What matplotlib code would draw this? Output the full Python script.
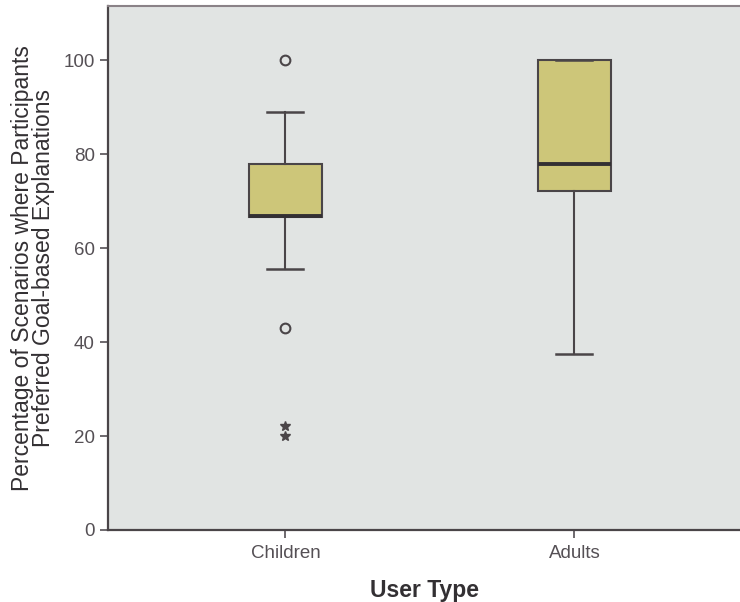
import matplotlib
matplotlib.use("Agg")
import matplotlib.pyplot as plt

categories = ["Children", "Adults"]
q1 = [66.7, 72.2]
median = [66.9, 77.8]
q3 = [77.8, 100.0]
whisker_low = [55.6, 37.5]
whisker_high = [88.9, 100.0]
outliers = [[100.0, 42.9], []]
extremes = [[22.2, 20.0], []]
y_ticks = [0, 20, 40, 60, 80, 100]

plt.rcParams['font.family'] = ['Liberation Sans', 'DejaVu Sans']

fig = plt.figure(figsize=(7.4, 6.02), dpi=100)
ax = fig.add_axes([108/740, 72/602, 1 - 108/740, (530 - 6)/602])
ax.set_facecolor('#e1e4e3')

line_col = '#4a4548'
stats = []
for i, c in enumerate(categories):
    stats.append(dict(label=c, q1=q1[i], med=median[i], q3=q3[i],
                      whislo=whisker_low[i], whishi=whisker_high[i],
                      fliers=outliers[i]))
positions = [1, 2]
ax.bxp(stats, positions=positions, widths=0.25, capwidths=0.125,
       patch_artist=True, showfliers=True,
       boxprops=dict(facecolor='#cdc679', edgecolor=line_col, linewidth=1.5),
       medianprops=dict(color='#333033', linewidth=2.8),
       whiskerprops=dict(color=line_col, linewidth=1.5),
       capprops=dict(color=line_col, linewidth=1.8),
       flierprops=dict(marker='o', markersize=7, markerfacecolor='none',
                       markeredgecolor=line_col, markeredgewidth=1.5))
for i, ex in enumerate(extremes):
    if ex:
        ax.plot([positions[i]] * len(ex), ex, linestyle='none', marker='*',
                markersize=7, color='#4a4548')

ax.set_xlim(0.386, 2.573)
ax.set_ylim(0, 111.5)
ax.set_yticks(y_ticks)
ax.set_xticks(positions)
ax.set_xticklabels(categories)
ax.tick_params(axis='both', direction='out', length=6, width=1.2,
               colors='#555055', labelsize=13.5, labelcolor='#555055')
ax.tick_params(axis='x', pad=5)

for s in ['left', 'bottom']:
    ax.spines[s].set_color('#4a4548')
    ax.spines[s].set_linewidth(1.6)
ax.spines['top'].set_color('#8a8287')
ax.spines['top'].set_linewidth(1.5)
ax.spines['right'].set_visible(False)

ax.set_ylabel("Percentage of Scenarios where Participants\nPreferred Goal-based Explanations",
              fontsize=16.5, color='#333033', labelpad=6, linespacing=0.92)
ax.set_xlabel("User Type", fontsize=16.5, fontweight='bold', color='#333033', labelpad=12)

fig.savefig("out.png", dpi=100, facecolor='white')
